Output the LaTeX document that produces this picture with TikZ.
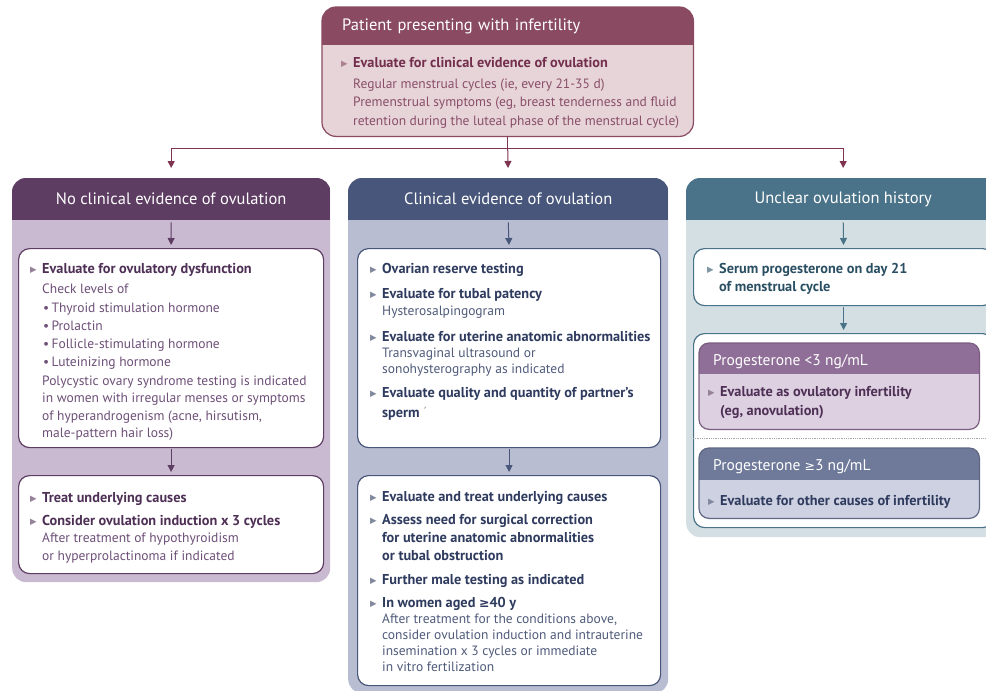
\documentclass[tikz,border=0pt]{standalone}
\usepackage{fontspec}
\setmainfont{PT Sans}
\newfontfamily\symfont{DejaVu Sans}
\usetikzlibrary{arrows.meta}

\definecolor{topdark}{HTML}{8A4A62}
\definecolor{toplight}{HTML}{E6D4D9}
\definecolor{toptext}{HTML}{722E4C}
\definecolor{topsub}{HTML}{8A4E68}
\definecolor{wire}{HTML}{7E3350}
\definecolor{leftdark}{HTML}{5E3D63}
\definecolor{leftlight}{HTML}{C9B9D1}
\definecolor{lefttext}{HTML}{4E2F55}
\definecolor{leftsub}{HTML}{6E5078}
\definecolor{middark}{HTML}{47567A}
\definecolor{midlight}{HTML}{B9BDD1}
\definecolor{midtext}{HTML}{2E3B5E}
\definecolor{midsub}{HTML}{4F5B7A}
\definecolor{rightdark}{HTML}{4A7389}
\definecolor{rightlight}{HTML}{D3DFE3}
\definecolor{righttext}{HTML}{2A4F63}
\definecolor{adark}{HTML}{8F6F97}
\definecolor{alight}{HTML}{DDD0E1}
\definecolor{bdark}{HTML}{6F7A9A}
\definecolor{blight}{HTML}{CDD1E1}

\newcommand{\trimark}{\makebox[12pt][l]{\color{.!60!white}\symfont\fontsize{8.5}{8.5}\selectfont\raisebox{0.5pt}{▶}}}
\newcommand{\gemark}{{\symfont\fontsize{12.5}{12.5}\selectfont ≥}}
% fill the top band of a rounded panel
\newcommand{\bandfill}[4][14pt]{%
  \begin{scope}
    \clip[rounded corners=#1] (#2.north west) rectangle (#2.south east);
    \fill[#4] (#2.north west) rectangle ([yshift=-#3pt]#2.north east);
  \end{scope}}

\tikzset{
  panel/.style={rectangle, rounded corners=14pt, inner sep=0pt, anchor=north west},
  band/.style={rectangle, inner sep=0pt, anchor=north west, text=white, font=\fontsize{16.5}{19}\selectfont},
  card/.style={rectangle, rounded corners=11pt, fill=white, line width=1.2pt, inner sep=0pt, anchor=north west},
  lead/.style={inner sep=0pt, anchor=base west, font=\fontsize{14.3}{16}\selectfont\bfseries},
  sub/.style={inner sep=0pt, anchor=base west, font=\fontsize{13.5}{16}\selectfont},
  link/.style={-{Triangle[length=7pt,width=7pt]}, line width=1pt},
}

\begin{document}
\begin{tikzpicture}[x=1pt,y=-1pt]
	\clip (0,0) rectangle (986,691);
	\fill[white] (0,0) rectangle (986,691);

	% top box
	\node[panel, fill=toplight, minimum width=371, minimum height=129] (top_box) at (322,7) {};
	\bandfill{top_box}{38}{topdark}
	\draw[topdark, line width=1.2pt, rounded corners=14pt] (top_box.north west) rectangle (top_box.south east);
	\node[band, minimum width=371, minimum height=38, text width=331, align=left, inner xsep=20pt] (top_head) at (322,7) {Patient presenting with infertility};
	\node[lead, toptext] (top_l1) at (341,67) {\trimark Evaluate for clinical evidence of ovulation};
	\foreach \txt [count=\k from 0] in {{Regular menstrual cycles (ie, every 21-35 d)},{Premenstrual symptoms (eg, breast tenderness and fluid},{retention during the luteal phase of the menstrual cycle)}}
	{
		\pgfmathsetmacro{\ypos}{88+18.5*\k}
		\node[sub, topsub] (top_s\k) at (353,\ypos) {\txt};
	}

	% three panels
	\node[panel, fill=leftlight, minimum width=318, minimum height=404] (left_panel) at (12,178) {};
	\node[panel, fill=midlight, minimum width=320, minimum height=515] (mid_panel) at (348,178) {};
	\node[panel, fill=rightlight, minimum width=314, minimum height=359] (right_panel) at (686,178) {};
	\bandfill{left_panel}{42}{leftdark}
	\bandfill{mid_panel}{42}{middark}
	\bandfill{right_panel}{42}{rightdark}
	\node[band, minimum width=318, minimum height=42] (left_head) at (12,178) {No clinical evidence of ovulation};
	\node[band, minimum width=320, minimum height=42] (mid_head) at (348,178) {Clinical evidence of ovulation};
	\node[band, minimum width=314, minimum height=42] (right_head) at (686,178) {Unclear ovulation history};

	% split from the top box
	\coordinate (split) at (top_box.south |- 0,148);
	\draw[wire, line width=1pt] (top_box.south) -- (split);
	\draw[link, wire, shorten >=10pt] (split) -| (left_panel.north);
	\draw[link, wire, shorten >=10pt] (split) -- (mid_panel.north);
	\draw[link, wire, shorten >=10pt] (split) -| (right_panel.north);

	% left column
	\node[card, draw=leftdark, minimum width=305, minimum height=199] (left_card1) at (18,248) {};
	\node[card, draw=leftdark, minimum width=305, minimum height=98] (left_card2) at (18,475) {};
	\draw[link, leftdark, shorten <=2pt, shorten >=3pt] (left_head.south) -- (left_card1.north);
	\draw[link, leftdark, shorten <=1pt, shorten >=3pt] (left_card1.south) -- (left_card2.north);
	\node[lead, lefttext] (left_l1) at (30,273) {\trimark Evaluate for ovulatory dysfunction};
	\node[sub, leftsub] (left_s0) at (42,293) {Check levels of};
	\foreach \txt [count=\k from 0] in {Thyroid stimulation hormone,Prolactin,Follicle-stimulating hormone,Luteinizing hormone}
	{
		\pgfmathsetmacro{\ypos}{312+18*\k}
		\node[sub, leftsub] (left_b\k) at (43,\ypos) {•\,\txt};
	}
	\foreach \txt [count=\k from 0] in {Polycystic ovary syndrome testing is indicated,in women with irregular menses or symptoms,{of hyperandrogenism (acne, hirsutism,},male-pattern hair loss)}
	{
		\pgfmathsetmacro{\ypos}{385+17.5*\k}
		\node[sub, leftsub] (left_p\k) at (42,\ypos) {\txt};
	}
	\node[lead, lefttext] (left_l2) at (30,502) {\trimark Treat underlying causes};
	\node[lead, lefttext] (left_l3) at (30,525) {\trimark Consider ovulation induction x 3 cycles};
	\node[sub, leftsub] (left_s1) at (42,542) {After treatment of hypothyroidism};
	\node[sub, leftsub] (left_s2) at (42,560) {or hyperprolactinoma if indicated};

	% middle column
	\node[card, draw=middark, minimum width=303, minimum height=199] (mid_card1) at (357,248) {};
	\node[card, draw=middark, minimum width=303, minimum height=210] (mid_card2) at (357,475) {};
	\draw[link, middark, shorten <=2pt, shorten >=3pt] (mid_head.south) -- (mid_card1.north);
	\draw[link, middark, shorten <=1pt, shorten >=3pt] (mid_card1.south) -- (mid_card2.north);
	\node[lead, midtext] (mid_l1) at (370,273) {\trimark Ovarian reserve testing};
	\node[lead, midtext] (mid_l2) at (370,298) {\trimark Evaluate for tubal patency};
	\node[sub, midsub] (mid_s1) at (382,315) {Hysterosalpingogram};
	\node[lead, midtext] (mid_l3) at (370,341) {\trimark Evaluate for uterine anatomic abnormalities};
	\node[sub, midsub] (mid_s2) at (382,357) {Transvaginal ultrasound or};
	\node[sub, midsub] (mid_s3) at (382,373) {sonohysterography as indicated};
	\node[lead, midtext] (mid_l4) at (370,397) {\trimark Evaluate quality and quantity of partner’s};
	\node[lead, midtext] (mid_l5) at (382,417) {sperm {\color{midsub!60!white}\mdseries´}};
	\node[lead, midtext] (mid_l6) at (370,501) {\trimark Evaluate and treat underlying causes};
	\node[lead, midtext] (mid_l7) at (370,524) {\trimark Assess need for surgical correction};
	\node[lead, midtext] (mid_l8) at (382,542) {for uterine anatomic abnormalities};
	\node[lead, midtext] (mid_l9) at (382,560) {or tubal obstruction};
	\node[lead, midtext] (mid_l10) at (370,584) {\trimark Further male testing as indicated};
	\node[lead, midtext] (mid_l11) at (370,607) {\trimark In women aged \gemark40 y};
	\foreach \txt [count=\k from 0] in {{After treatment for the conditions above,},consider ovulation induction and intrauterine,insemination x 3 cycles or immediate,in vitro fertilization}
	{
		\pgfmathsetmacro{\ypos}{623+16*\k}
		\node[sub, midsub] (mid_p\k) at (382,\ypos) {\txt};
	}

	% right column
	\node[card, draw=rightdark, minimum width=300, minimum height=57] (right_card1) at (693,248) {};
	\node[card, draw=rightdark, minimum width=300, minimum height=194] (right_card2) at (693,333) {};
	\draw[link, rightdark, shorten <=2pt, shorten >=3pt] (right_head.south) -- (right_card1.north);
	\draw[link, rightdark, shorten <=1pt, shorten >=3pt] (right_card1.south) -- (right_card2.north);
	\node[lead, righttext] (right_l1) at (707,273) {\trimark Serum progesterone on day 21};
	\node[lead, righttext] (right_l2) at (719,291) {of menstrual cycle};

	\node[panel, rounded corners=10pt, fill=alight, minimum width=280, minimum height=86] (low_box) at (699,343) {};
	\node[panel, rounded corners=10pt, fill=blight, minimum width=280, minimum height=70] (high_box) at (699,448) {};
	\bandfill[10pt]{low_box}{31}{adark}
	\bandfill[10pt]{high_box}{32}{bdark}
	\draw[adark!85!black, line width=1.2pt, rounded corners=10pt] (low_box.north west) rectangle (low_box.south east);
	\draw[bdark!85!black, line width=1.2pt, rounded corners=10pt] (high_box.north west) rectangle (high_box.south east);
	\node[sub, white, font=\fontsize{15.5}{17}\selectfont] (low_head) at (713,365) {Progesterone <3 ng/mL};
	\node[sub, white, font=\fontsize{15.5}{17}\selectfont] (high_head) at (713,470) {Progesterone \gemark3 ng/mL};
	\node[lead, lefttext] (low_l1) at (708,396) {\trimark Evaluate as ovulatory infertility};
	\node[lead, lefttext] (low_l2) at (720,415) {(eg, anovulation)};
	\node[lead, midtext] (high_l1) at (708,505) {\trimark Evaluate for other causes of infertility};
	\draw[gray!70, densely dotted, line width=0.8pt] (right_card2.west |- 0,438) -- (right_card2.east |- 0,438);
\end{tikzpicture}
\end{document}
